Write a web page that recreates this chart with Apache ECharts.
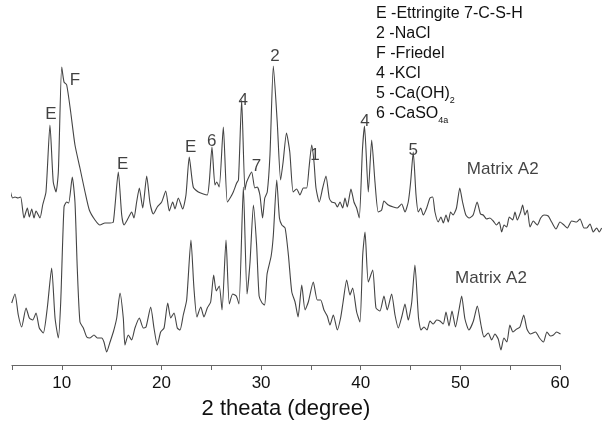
<!DOCTYPE html>
<html>
<head>
<meta charset="utf-8">
<script src="https://cdn.jsdelivr.net/npm/echarts@6/dist/echarts.min.js"></script>
<style>
html,body{margin:0;padding:0;background:#fff;}
#c{width:602px;height:431px;}
</style>
</head>
<body>
<div id="c"></div>
<script>
// 2-theta (degree) positions and relative intensity (arbitrary units) of the upper trace
const upperTheta = [4.80,5.07,5.30,5.60,5.87,6.20,6.54,6.74,6.98,7.21,7.41,7.81,8.08,8.41,8.81,9.14,9.42,9.65,9.99,10.22,10.49,10.89,11.32,11.82,12.33,12.76,13.33,13.83,14.33,14.83,15.17,15.67,16.01,16.24,16.67,17.01,17.24,17.51,17.78,18.12,18.52,18.85,19.18,19.58,20.02,20.43,20.79,21.13,21.36,21.69,22.13,22.46,22.79,23.19,23.70,24.20,24.60,24.80,25.07,25.37,25.54,25.80,26.21,26.61,26.95,27.21,27.55,27.73,28.05,28.38,28.55,29.05,29.37,29.61,29.88,30.15,30.37,30.62,30.89,31.23,31.62,31.96,32.21,32.55,32.88,33.22,33.57,33.90,34.24,34.57,34.81,35.08,35.31,35.51,35.84,36.18,36.51,36.84,37.08,37.42,37.65,37.92,38.19,38.42,38.65,39.02,39.32,39.59,39.85,40.17,40.38,40.76,41.10,41.43,41.76,42.10,42.33,42.77,43.27,43.67,44.11,44.44,44.77,45.01,45.27,45.55,45.78,46.02,46.28,46.62,46.95,47.22,47.45,47.78,48.05,48.29,48.56,48.79,49.02,49.27,49.61,49.94,50.22,50.55,50.88,51.28,51.68,52.02,52.29,52.63,52.96,53.30,53.63,53.90,54.15,54.38,54.65,54.91,55.25,55.48,55.71,56.05,56.25,56.48,56.72,56.99,57.32,57.72,58.06,58.39,58.82,59.16,59.60,60.00,60.40,60.73,61.17,61.67,62.01,62.41,62.68,63.01,63.34,63.68,63.94,64.18];
const upperIntensity = [175,167,168,167,168,147,157,148,156,147,154,147,160,173,240,183,173,193,298,283,280,253,220,197,173,155,145,140,142,142,143,193,150,140,147,153,147,163,177,157,189,162,151,158,163,174,154,163,156,167,156,170,208,178,173,171,170,183,218,180,183,178,238,163,168,173,182,185,265,175,183,193,177,178,170,147,167,173,210,299,243,185,203,232,213,173,176,170,177,177,197,220,203,177,163,177,189,167,163,162,158,163,157,167,158,176,163,157,147,215,239,173,225,183,153,155,164,160,158,157,161,153,163,183,213,170,153,157,150,157,167,168,153,143,148,142,150,143,153,150,157,177,163,150,147,150,163,151,150,146,147,144,140,143,133,140,138,148,145,153,145,153,160,150,155,138,144,140,147,150,149,143,136,143,140,137,144,143,146,137,137,141,133,137,133,137];

// lower trace
const lowerTheta = [4.97,5.30,5.63,5.97,6.41,6.74,7.08,7.41,7.74,8.14,8.54,8.98,9.32,9.65,9.89,10.22,10.49,10.69,11.05,11.32,11.55,11.82,12.16,12.50,12.83,13.23,13.56,14.00,14.23,14.50,14.84,15.17,15.51,15.84,16.17,16.34,16.67,17.01,17.34,17.78,18.18,18.45,18.92,19.25,19.58,19.92,20.26,20.63,20.93,21.26,21.59,21.86,22.19,22.53,22.96,23.26,23.56,23.94,24.27,24.60,24.94,25.24,25.50,25.80,26.08,26.48,26.81,27.15,27.51,27.78,28.22,28.59,28.89,29.23,29.55,29.80,30.10,30.35,30.60,31.01,31.23,31.57,31.84,32.08,32.41,32.74,33.08,33.41,33.71,34.08,34.41,34.74,35.24,35.64,35.98,36.31,36.64,36.91,37.25,37.65,37.98,38.23,38.59,38.92,39.19,39.59,39.92,40.20,40.43,40.76,41.20,41.53,41.93,42.33,42.66,43.10,43.44,43.77,44.14,44.44,44.77,45.11,45.44,45.80,46.05,46.35,46.65,46.95,47.28,47.62,47.95,48.28,48.56,48.86,49.16,49.51,49.86,50.13,50.46,50.86,51.31,51.70,52.07,52.37,52.80,53.14,53.47,53.80,54.07,54.37,54.67,54.97,55.28,55.65,55.98,56.36,56.68,57.03,57.54,57.94,58.34,58.69,59.04,59.34,59.65,60.05];
const lowerIntensity = [62,71,50,38,57,47,45,52,37,32,57,97,47,27,63,158,163,162,188,163,97,43,37,28,27,30,27,27,23,13,23,33,47,72,47,20,30,25,37,47,37,38,58,37,20,33,37,62,47,52,37,35,50,65,125,77,48,58,48,57,63,90,74,79,55,125,61,71,69,61,178,71,103,160,120,69,62,60,91,109,130,185,147,140,137,110,73,63,48,80,55,63,83,65,65,55,49,40,50,35,47,63,85,70,77,53,43,110,133,83,95,57,54,69,55,71,50,37,49,61,45,62,100,47,35,38,35,44,41,45,44,41,53,39,54,38,55,69,46,35,44,59,40,28,32,25,31,26,15,27,23,40,33,36,38,50,36,31,33,27,23,33,29,30,33,31];

// peak annotations: label, 2-theta, intensity level
const peakLabels = ['E','F','E','E','6','4','7','2','1','4','5','Matrix A2','Matrix A2'];
const peakTheta  = [8.91,11.32,16.11,22.93,25.04,28.21,29.54,31.39,35.41,40.43,45.27,54.25,53.07];
const peakLevel  = [251,285,201,218,224,265,199,309,210,244,215,196,87];

// tick labels on the x axis
const xTicks = [10,20,30,40,50,60];

const legendLines = [
  '{n|E -Ettringite 7-C-S-H}',
  '{n|2 -NaCl}',
  '{n|F -Friedel}',
  '{n|4 -KCl}',
  '{n|5 -Ca(OH)}{s|2}',
  '{n|6 -CaSO}{s|4a}'
];

const FONT = '"Liberation Sans", Arial, Helvetica, sans-serif';
const zip = (a,b) => a.map((v,i)=>[v,b[i]]);

// pixel scale shared by both grids: 548 px for 55 degrees
const PX_PER_DEG = 548 / 55;
const PLOT_MAX = 64.2;

const chart = echarts.init(document.getElementById('c'), null, {renderer:'canvas'});
const rich = {
  n:{fontSize:16, fontFamily:FONT, color:'#111', lineHeight:20, verticalAlign:'bottom'},
  s:{fontSize:9, fontFamily:FONT, color:'#111', lineHeight:20, verticalAlign:'bottom', padding:[0,0,-3,0]}
};
const option = {
  animation:false,
  backgroundColor:'#fff',
  grid:[
    {left:12, width:548, top:0, height:365, containLabel:false},
    {left:12, width:(PLOT_MAX-5)*PX_PER_DEG, top:0, height:365, containLabel:false}
  ],
  xAxis:[{
    gridIndex:0, type:'value', min:5, max:60, interval:5,
    name:'2 theata (degree)', nameLocation:'middle', nameGap:33,
    nameTextStyle:{fontSize:22, fontFamily:FONT, color:'#111'},
    axisLine:{show:true, lineStyle:{color:'#666', width:1.2}},
    axisTick:{show:true, length:5, lineStyle:{color:'#666'}},
    axisLabel:{fontSize:17, fontFamily:FONT, color:'#111', margin:10,
      formatter:v => xTicks.indexOf(v) >= 0 ? String(v) : ''},
    splitLine:{show:false}
  },{
    gridIndex:1, type:'value', min:5, max:PLOT_MAX, show:false
  }],
  yAxis:[
    {gridIndex:0, type:'value', min:0, max:365, show:false},
    {gridIndex:1, type:'value', min:0, max:365, show:false}
  ],
  series:[
    {type:'line', xAxisIndex:1, yAxisIndex:1, data:zip(upperTheta, upperIntensity), showSymbol:false, clip:false, smooth:0.2,
     lineStyle:{color:'#444', width:1.1}},
    {type:'line', xAxisIndex:1, yAxisIndex:1, data:zip(lowerTheta, lowerIntensity), showSymbol:false, clip:false, smooth:0.2,
     lineStyle:{color:'#444', width:1.1}},
    {type:'scatter', xAxisIndex:1, yAxisIndex:1, symbolSize:0, clip:false,
     data:peakLabels.map((t,i)=>({name:t, value:[peakTheta[i], peakLevel[i]]})),
     label:{show:true, position:'inside', formatter:p=>p.name,
       fontSize:17, fontFamily:FONT, color:'#111'}}
  ],
  graphic:legendLines.map((t,i)=>({
    type:'text', left:376, top:6 + i*20,
    style:{text:t, rich:rich, fill:'#111'}
  }))
};
chart.setOption(option);
</script>
</body>
</html>
